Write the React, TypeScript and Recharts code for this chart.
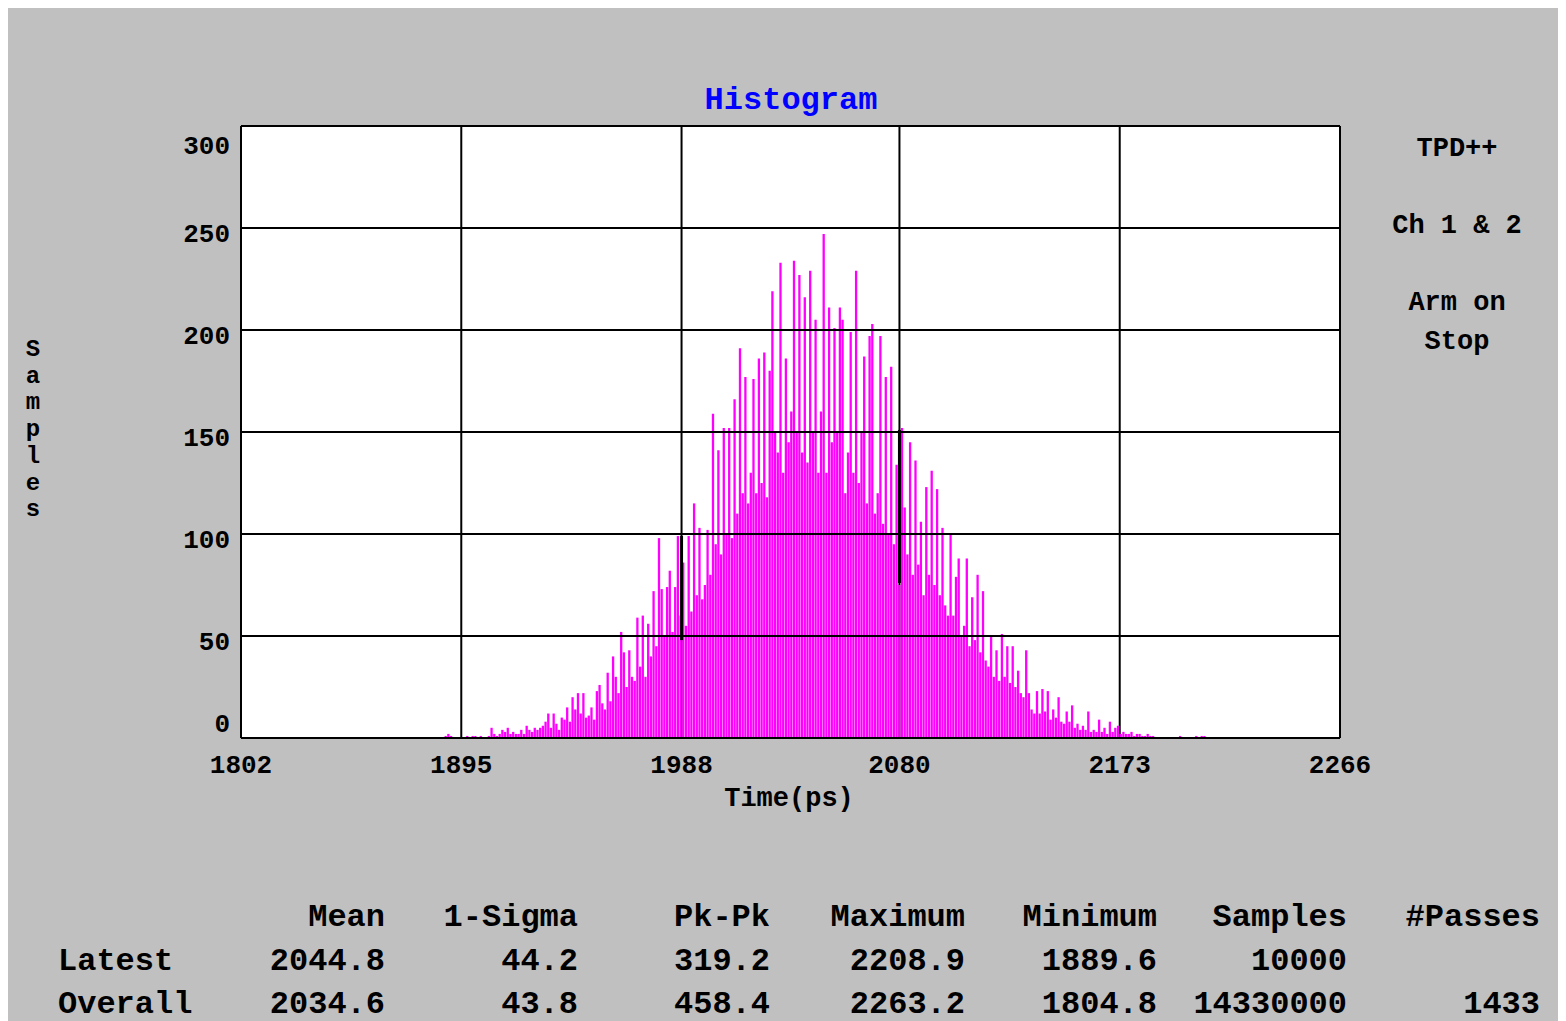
import { BarChart, Bar, XAxis, YAxis, CartesianGrid, ReferenceLine } from 'recharts'

const FONT = '"Liberation Mono", "DejaVu Sans Mono", monospace'
const INK = '#000'
const BAR = '#ff00ff'

// sample counts, one per 1.14 ps bin starting at 1888.5 ps
const BIN_START = 1888.5
const BIN_WIDTH = 1.14

const leftTail = [
  1, 2, 1, 0, 0, 0, 0, 0, 1, 0,
  1, 1, 0, 1, 0, 0, 1, 5, 2, 1,
  2, 4, 3, 5, 2, 3, 2, 2, 4, 2,
  6, 4, 3, 5, 4, 5, 6, 8, 12, 5,
  12, 7, 4, 10, 9, 15, 8, 20, 14, 22,
  12, 22, 10, 11, 15, 9, 23, 26, 17, 14,
]
const rise = [
  32, 18, 40, 30, 22, 52, 42, 25, 43, 30,
  28, 59, 35, 60, 30, 56, 40, 72, 45, 98,
  73, 50, 74, 82, 52, 74, 99, 60, 86, 55,
  99, 62, 115, 70, 103, 68, 75, 102, 80, 159,
]
const peak = [
  95, 141, 90, 152, 100, 152, 98, 166, 110, 191,
  120, 177, 115, 130, 176, 120, 186, 125, 189, 118,
  180, 219, 150, 140, 233, 130, 186, 145, 160, 234,
  150, 227, 140, 216, 135, 229, 150, 205, 130, 160,
  247, 130, 211, 145, 201, 150, 211, 205, 120, 140,
  199, 130, 229, 125, 150, 187, 115, 197, 203, 110,
  120, 197, 105, 177, 100, 182, 95, 134, 75, 152,
]
const fall = [
  113, 90, 145, 80, 136, 85, 106, 70, 123, 80,
  131, 75, 122, 70, 103, 65, 60, 100, 60, 79,
  88, 50, 55, 88, 45, 69, 48, 80, 42, 72,
  38, 35, 50, 30, 43, 28, 51, 30, 45, 27,
  45, 25, 33, 22, 20, 43, 22, 14, 12, 23,
]
const rightTail = [
  12, 24, 13, 23, 9, 14, 10, 20, 8, 7,
  13, 8, 16, 5, 7, 4, 6, 4, 13, 3,
  4, 3, 9, 3, 5, 2, 8, 3, 5, 6,
  2, 3, 2, 2, 3, 1, 2, 2, 1, 1,
  2, 1, 1, 0, 0, 0, 0, 0, 0, 0,
  0, 0, 1, 0, 0, 0, 0, 0, 1, 0,
  1, 1,
]

const xTicks = [1802, 1895, 1988, 2080, 2173, 2266]
const yTicks = [0, 50, 100, 150, 200, 250, 300]

// where a bar sits on a vertical grid line the overlap shows up black
const overlapMarks = [
  { t: 1988, from: 48, to: 99 },
  { t: 2080, from: 76, to: 151 },
]

const statHeaders = ['Mean', '1-Sigma', 'Pk-Pk', 'Maximum', 'Minimum', 'Samples', '#Passes']
const latestStats = ['2044.8', '44.2', '319.2', '2208.9', '1889.6', '10000', '']
const overallStats = ['2034.6', '43.8', '458.4', '2263.2', '1804.8', '14330000', '1433']
const sideNotes = ['TPD++', 'Ch 1 & 2', 'Arm on', 'Stop']

const counts = [...leftTail, ...rise, ...peak, ...fall, ...rightTail]
const data = counts.map((n, i) => ({ t: +(BIN_START + i * BIN_WIDTH).toFixed(2), n }))

const colRight = [377, 570, 762, 957, 1149, 1339, 1532]
const rowY = [910, 954, 997]
const noteY = [141, 218, 295, 334]

const yTickShift: Record<number, number> = { 300: 21, 0: -13 }

const YTick = (props: any) => {
  const { x, y, payload } = props
  const dy = yTickShift[payload.value] ?? 7
  return (
    <text x={x - 11} y={y + dy} textAnchor="end" dominantBaseline="central"
      fontFamily={FONT} fontWeight={700} fontSize={26} fill={INK}>
      {payload.value}
    </text>
  )
}

const XTick = (props: any) => {
  const { x, y, payload } = props
  return (
    <text x={x} y={y + 28} textAnchor="middle" dominantBaseline="central"
      fontFamily={FONT} fontWeight={700} fontSize={26} fill={INK}>
      {payload.value}
    </text>
  )
}

const label = (left: number, top: number, size: number, anchor: 'center' | 'right' | 'left' = 'center') => ({
  position: 'absolute' as const,
  left,
  top,
  fontSize: size,
  lineHeight: `${Math.round(size * 0.75)}px`,
  whiteSpace: 'pre' as const,
  transform: `translate(${anchor === 'center' ? '-50%' : anchor === 'right' ? '-100%' : '0'}, -50%)`,
})

export default function App() {
  return (
    <div style={{ position: 'relative', width: 1550, height: 1013, background: '#c0c0c0',
      fontFamily: FONT, fontWeight: 700, color: INK }}>
      <BarChart width={1550} height={800} data={data}
        margin={{ top: 118, right: 218, bottom: 30, left: 173 }}>
        <CartesianGrid horizontal={false} stroke={INK} strokeWidth={2} fill="#fff" fillOpacity={1} />
        <XAxis dataKey="t" type="number" scale="linear" domain={[1802, 2266]} ticks={xTicks}
          interval={0} height={40} axisLine={false} tickLine={false} tickSize={0} tickMargin={0}
          tick={<XTick />} allowDataOverflow />
        <YAxis type="number" domain={[0, 300]} ticks={yTicks} interval={0} width={60}
          axisLine={false} tickLine={false} tickSize={0} tickMargin={0} tick={<YTick />} />
        <Bar dataKey="n" fill={BAR} barSize={2.3} isAnimationActive={false} />
        {yTicks.map((v) => (
          <ReferenceLine key={`h${v}`} y={v} stroke={INK} strokeWidth={2} />
        ))}
        <ReferenceLine x={1802} stroke={INK} strokeWidth={2} />
        <ReferenceLine x={2266} stroke={INK} strokeWidth={2} />
        {overlapMarks.map((m) => (
          <ReferenceLine key={`o${m.t}`} segment={[{ x: m.t, y: m.from }, { x: m.t, y: m.to }]}
            stroke={INK} strokeWidth={3} />
        ))}
      </BarChart>

      <div style={{ ...label(783, 93, 32), color: '#0000ff' }}>Histogram</div>
      <div style={label(781, 791, 27)}>Time(ps)</div>

      <div style={{ position: 'absolute', left: 25, top: 329, width: 30, transform: 'translateX(-50%)',
        display: 'flex', flexDirection: 'column', alignItems: 'center', fontSize: 24, lineHeight: '26.7px' }}>
        {'Samples'.split('').map((c, i) => (
          <span key={i}>{c}</span>
        ))}
      </div>

      {sideNotes.map((s, i) => (
        <div key={s} style={label(1449, noteY[i], 27)}>{s}</div>
      ))}

      {statHeaders.map((h, i) => (
        <div key={h} style={label(colRight[i], rowY[0], 32, 'right')}>{h}</div>
      ))}
      <div style={label(50, rowY[1], 32, 'left')}>Latest</div>
      <div style={label(50, rowY[2], 32, 'left')}>Overall</div>
      {latestStats.map((v, i) => (
        <div key={`l${i}`} style={label(colRight[i], rowY[1], 32, 'right')}>{v}</div>
      ))}
      {overallStats.map((v, i) => (
        <div key={`v${i}`} style={label(colRight[i], rowY[2], 32, 'right')}>{v}</div>
      ))}
    </div>
  )
}
